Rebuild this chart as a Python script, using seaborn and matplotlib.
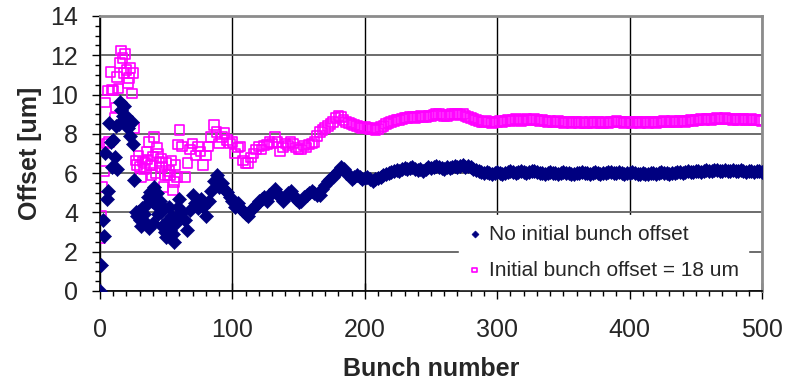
import numpy as np
import pandas as pd
import matplotlib
matplotlib.use("Agg")
import matplotlib.pyplot as plt
from matplotlib.ticker import MultipleLocator
import seaborn as sns

# %% DATA
# bunches 0-59 every bunch, 60-500 every second bunch
bunch = list(range(0, 60)) + list(range(60, 501, 2))

no_offset = [
    # 0-59
    0.0, 1.3, 3.6, 2.8, 7.0, 4.7, 5.1, 8.55, 7.6, 6.3,
    7.7, 6.8, 8.4, 6.2, 8.5, 9.6, 9.2, 8.9, 9.4, 8.6,
    8.9, 8.3, 8.7, 7.9, 8.6, 7.5, 5.65, 4.0, 3.8, 4.0,
    3.6, 3.3, 4.2, 3.9, 3.5, 4.4, 4.8, 3.2, 5.05, 4.6,
    3.45, 5.3, 4.4, 5.0, 3.9, 4.6, 4.0, 3.3, 4.2, 3.0,
    2.75, 3.6, 4.3, 3.1, 3.8, 2.9, 2.5, 3.4, 3.8, 4.3,
    # 60-500 step 2
    4.7, 4.0, 3.6, 3.1, 4.1, 4.9, 4.5, 4.2, 4.7, 4.3,
    3.8, 4.6, 5.1, 5.6, 5.9, 5.3, 5.5, 5.2, 5.05, 4.8,
    4.6, 4.3, 4.5, 4.2, 4.05, 3.9, 3.8, 4.1, 4.3, 4.4,
    4.6, 4.7, 4.8, 4.6, 4.9, 5.0, 5.2, 5.0, 4.8, 4.6,
    4.8, 5.0, 5.1, 4.9, 4.7, 4.55, 4.6, 4.8, 4.9, 5.0,
    5.1, 5.0, 4.9, 4.9, 5.2, 5.4, 5.6, 5.7, 5.8, 6.0,
    6.1, 6.3, 6.2, 6.0, 5.9, 5.7, 5.8, 5.9, 5.8, 5.7,
    5.75, 5.8, 5.7, 5.6, 5.7, 5.75, 5.8, 5.9, 5.95, 6.0,
    6.05, 6.1, 6.15, 6.1, 6.2, 6.25, 6.2, 6.25, 6.3, 6.2,
    6.15, 6.2, 6.1, 6.2, 6.3, 6.25, 6.3, 6.35, 6.3, 6.25,
    6.2, 6.3, 6.25, 6.3, 6.35, 6.3, 6.35, 6.4, 6.3, 6.35,
    6.3, 6.2, 6.15, 6.1, 6.05, 6.0, 6.05, 6.0, 5.95, 6.0,
    6.05, 6.0, 5.95, 6.0, 6.05, 6.1, 6.05, 6.0, 6.05, 6.1,
    6.05, 6.0, 6.05, 6.1, 6.1, 6.05, 6.0, 6.0, 5.95, 6.0,
    6.05, 6.0, 6.0, 5.95, 6.0, 6.05, 6.0, 6.0, 5.95, 5.95,
    6.0, 6.0, 6.05, 6.0, 6.0, 5.95, 6.0, 6.05, 6.0, 5.95,
    6.0, 6.0, 6.05, 6.05, 6.0, 6.0, 6.05, 6.0, 5.95, 6.0,
    6.0, 6.05, 6.0, 5.95, 5.95, 6.0, 5.95, 5.95, 6.0, 6.0,
    5.95, 6.0, 6.05, 6.0, 6.0, 5.95, 6.0, 6.0, 6.05, 6.05,
    6.0, 6.05, 6.1, 6.05, 6.05, 6.1, 6.1, 6.05, 6.1, 6.15,
    6.1, 6.1, 6.15, 6.15, 6.1, 6.1, 6.15, 6.1, 6.1, 6.15,
    6.1, 6.1, 6.15, 6.1, 6.05, 6.1, 6.1, 6.05, 6.1, 6.1,
    6.05,
]

offset_18 = [
    # 0-59
    2.7, 3.85, 5.3, 6.1, 9.6, 7.5, 10.2, 7.6, 11.15, 10.25,
    10.2, 8.8, 9.35, 10.9, 10.3, 11.6, 12.25, 11.85, 11.1, 12.05,
    11.25, 10.6, 10.85, 11.35, 10.05, 11.1, 8.3, 6.65, 6.4, 6.9,
    6.3, 5.8, 6.6, 6.2, 6.5, 7.1, 6.7, 7.6, 6.4, 5.9,
    6.85, 7.85, 6.0, 7.3, 7.0, 6.6, 6.75, 6.3, 5.3, 5.9,
    6.5, 5.9, 6.1, 5.9, 6.65, 5.15, 5.55, 6.4, 5.8, 7.45,
    # 60-500 step 2
    8.2, 7.35, 5.8, 6.5, 7.2, 7.5, 6.9, 7.35, 7.1, 6.4,
    6.9, 7.35, 7.85, 8.45, 8.1, 7.5, 7.85, 8.05, 7.7, 7.5,
    7.6, 7.0, 7.3, 7.35, 6.65, 6.5, 6.5, 6.8, 7.0, 7.2,
    7.35, 7.2, 7.4, 7.45, 7.6, 7.5, 7.85, 7.6, 7.1, 7.3,
    7.5, 7.4, 7.6, 7.5, 7.3, 7.2, 7.2, 7.4, 7.3, 7.45,
    7.5, 7.6, 7.9, 8.1, 8.2, 8.3, 8.4, 8.5, 8.6, 8.8,
    8.9, 8.85, 8.7, 8.6, 8.55, 8.5, 8.45, 8.4, 8.35, 8.3,
    8.35, 8.3, 8.25, 8.3, 8.2, 8.25, 8.35, 8.4, 8.5, 8.55,
    8.6, 8.65, 8.7, 8.7, 8.75, 8.8, 8.8, 8.85, 8.85, 8.8,
    8.85, 8.9, 8.85, 8.85, 8.9, 8.9, 8.95, 9.0, 9.0, 8.95,
    8.9, 8.9, 8.95, 9.0, 9.0, 9.0, 8.95, 9.0, 8.9, 8.85,
    8.8, 8.75, 8.7, 8.65, 8.6, 8.6, 8.65, 8.6, 8.55, 8.6,
    8.6, 8.65, 8.6, 8.65, 8.7, 8.65, 8.7, 8.75, 8.7, 8.65,
    8.7, 8.75, 8.7, 8.7, 8.75, 8.7, 8.65, 8.7, 8.65, 8.6,
    8.65, 8.6, 8.6, 8.65, 8.6, 8.55, 8.6, 8.6, 8.55, 8.6,
    8.6, 8.55, 8.6, 8.55, 8.55, 8.6, 8.55, 8.6, 8.6, 8.55,
    8.55, 8.6, 8.55, 8.6, 8.6, 8.65, 8.6, 8.6, 8.55, 8.6,
    8.6, 8.55, 8.6, 8.6, 8.55, 8.6, 8.6, 8.55, 8.6, 8.6,
    8.55, 8.6, 8.6, 8.65, 8.6, 8.6, 8.65, 8.6, 8.6, 8.65,
    8.65, 8.6, 8.65, 8.7, 8.65, 8.7, 8.7, 8.75, 8.7, 8.75,
    8.75, 8.7, 8.75, 8.8, 8.75, 8.75, 8.8, 8.75, 8.75, 8.7,
    8.75, 8.7, 8.75, 8.75, 8.7, 8.7, 8.75, 8.7, 8.7, 8.7,
    8.65,
]

labels = ["No initial bunch offset", "Initial bunch offset = 18 um"]

df = pd.DataFrame({"bunch": bunch, "no_offset": no_offset, "offset_18": offset_18})

# %% PLOT
sns.set_style("ticks")
plt.rcParams["font.family"] = ["Liberation Sans", "DejaVu Sans"]

fig = plt.figure(figsize=(7.85, 3.85), dpi=100)
ax = fig.add_axes([0.1274, 0.2442, 0.8433, 0.7143])

sns.scatterplot(data=df, x="bunch", y="no_offset", ax=ax, marker="D", s=52,
                color="#000080", edgecolor="#000080", linewidth=0.4,
                label=labels[0], zorder=3)
sns.scatterplot(data=df, x="bunch", y="offset_18", ax=ax, marker="s", s=48,
                color="#FF00FF", facecolor="none", edgecolor="#FF00FF",
                linewidth=1.2, label=labels[1], zorder=2)

ax.set_xlim(0, 500)
ax.set_ylim(0, 14)
ax.xaxis.set_major_locator(MultipleLocator(100))
ax.xaxis.set_minor_locator(MultipleLocator(10))
ax.yaxis.set_major_locator(MultipleLocator(2))
ax.yaxis.set_minor_locator(MultipleLocator(0.5))

ax.set_axisbelow(True)
ax.yaxis.grid(True, color="#606060", linewidth=1.3)
ax.xaxis.grid(True, color="black", linewidth=1.0)

for side in ["left", "bottom"]:
    ax.spines[side].set_color("black")
    ax.spines[side].set_linewidth(1.2)
for side in ["top", "right"]:
    ax.spines[side].set_visible(True)
    ax.spines[side].set_color("#8c8c8c")
    ax.spines[side].set_linewidth(2.0)

ax.tick_params(axis="x", which="major", direction="inout", length=11, width=1,
               color="black", labelsize=18, pad=14)
ax.tick_params(axis="x", which="minor", direction="out", length=3.6, width=1, color="black")
ax.tick_params(axis="y", which="major", direction="out", length=5.8, width=1,
               color="black", labelsize=18, pad=10)
ax.tick_params(axis="y", which="minor", direction="out", length=3.6, width=1, color="black")

ax.set_xlabel("Bunch number", fontsize=18, fontweight="bold", labelpad=11)
ax.set_ylabel("Offset [um]", fontsize=18, fontweight="bold", labelpad=6)

leg = ax.legend(loc="lower left", bbox_to_anchor=(0.539, 0.0), fontsize=15,
                frameon=True, framealpha=1, facecolor="white", edgecolor="white",
                fancybox=False, markerscale=0.5, handlelength=0.6,
                handletextpad=0.4, labelspacing=0.8, borderpad=0.45,
                borderaxespad=0.1)

plt.savefig("out.png", dpi=100)
